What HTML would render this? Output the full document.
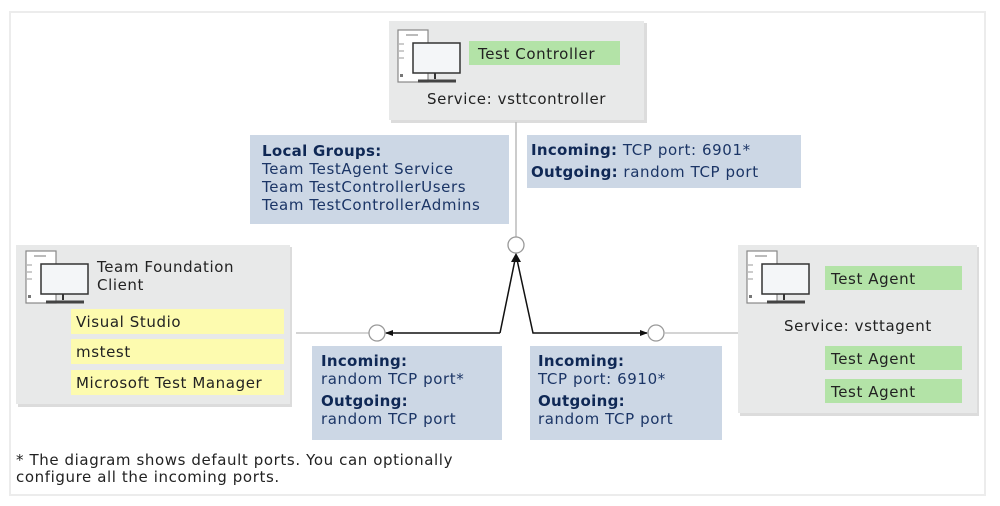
<!DOCTYPE html>
<html><head><meta charset="utf-8"><style>
html,body{margin:0;padding:0;background:#fff;}
svg{display:block;}
text{font-family:"DejaVu Sans","Liberation Sans",sans-serif;font-size:15px;letter-spacing:0.6px;}
.n{fill:#1b3566;}
.b{font-weight:bold;fill:#0f2855;letter-spacing:0.3px;}
.k{fill:#222;}
</style></head><body>
<svg width="1000" height="506" viewBox="0 0 1000 506" xmlns="http://www.w3.org/2000/svg">
<defs>
<g id="pc">
<rect x="0" y="0" width="30" height="52" fill="#fff" stroke="#888" stroke-width="1.2"/>
<line x1="8" y1="5" x2="20" y2="5" stroke="#777"/>
<line x1="1" y1="14" x2="6" y2="14" stroke="#999"/>
<line x1="1" y1="21" x2="6" y2="21" stroke="#999"/>
<line x1="1" y1="28" x2="6" y2="28" stroke="#999"/>
<rect x="2" y="44" width="3" height="3" fill="#777"/>
<rect x="15" y="13" width="47" height="30" fill="#f4f6f8" stroke="#333" stroke-width="1.5"/>
<line x1="37" y1="43" x2="37" y2="49" stroke="#333" stroke-width="2"/>
<line x1="20" y1="51" x2="58" y2="51" stroke="#444" stroke-width="3"/>
</g>
<marker id="ah" markerWidth="8" markerHeight="8" refX="7" refY="4" orient="auto" markerUnits="userSpaceOnUse">
<path d="M0,1 L8,4 L0,7 z" fill="#111"/>
</marker>
</defs>
<rect x="10" y="12" width="975" height="483" fill="#fff" stroke="#ececec" stroke-width="2"/>

<rect x="391" y="23" width="256" height="100" fill="#dcdcdc"/>
<rect x="389" y="21" width="255" height="99" fill="#e8e9e9"/>
<use href="#pc" x="398" y="30"/>
<rect x="469" y="41" width="151" height="24" fill="#b3e3a7"/>
<text x="478" y="59" class="k">Test Controller</text>
<text x="427" y="104" class="k">Service: vsttcontroller</text>

<line x1="516" y1="122" x2="516" y2="237" stroke="#bbb" stroke-width="1.5"/>
<circle cx="516" cy="245" r="8" fill="#fff" stroke="#999" stroke-width="1.3"/>

<rect x="250" y="135" width="259" height="89" fill="#ccd7e5"/>
<text x="262" y="156" class="b">Local Groups:</text>
<text x="262" y="174" class="n">Team TestAgent Service</text>
<text x="262" y="192" class="n">Team TestControllerUsers</text>
<text x="262" y="210" class="n">Team TestControllerAdmins</text>

<rect x="527" y="135" width="274" height="53" fill="#ccd7e5"/>
<text x="531" y="155" class="b">Incoming: <tspan class="n" font-weight="normal" letter-spacing="0.6">TCP port: 6901*</tspan></text>
<text x="531" y="177" class="b">Outgoing: <tspan class="n" font-weight="normal" letter-spacing="0.6">random TCP port</tspan></text>

<rect x="18" y="247" width="274" height="160" fill="#dcdcdc"/>
<rect x="16" y="245" width="274" height="159" fill="#e8e9e9"/>
<use href="#pc" x="26" y="251"/>
<text x="97" y="272" class="k">Team Foundation</text>
<text x="97" y="290" class="k">Client</text>
<rect x="71" y="309" width="213" height="25" fill="#fdfbaf"/>
<rect x="71" y="339" width="213" height="25" fill="#fdfbaf"/>
<rect x="71" y="370" width="213" height="25" fill="#fdfbaf"/>
<text x="76" y="327" class="k">Visual Studio</text>
<text x="76" y="357" class="k">mstest</text>
<text x="76" y="388" class="k">Microsoft Test Manager</text>

<line x1="296" y1="333" x2="369" y2="333" stroke="#bbb" stroke-width="1.3"/>
<circle cx="377" cy="333" r="8" fill="#fff" stroke="#999" stroke-width="1.3"/>
<polyline points="500,333 516,255 533,333 647,333" fill="none" stroke="#111" stroke-width="1.5" marker-end="url(#ah)"/>
<polyline points="500,333 386,333" fill="none" stroke="#111" stroke-width="1.5" marker-end="url(#ah)"/>
<path d="M511,262 L516,253 L521,262 z" fill="#111"/>
<circle cx="656" cy="333" r="8" fill="#fff" stroke="#999" stroke-width="1.3"/>
<line x1="664" y1="333" x2="738" y2="333" stroke="#bbb" stroke-width="1.3"/>

<rect x="312" y="346" width="190" height="94" fill="#ccd7e5"/>
<text x="321" y="366" class="b">Incoming:</text>
<text x="321" y="384" class="n">random TCP port*</text>
<text x="321" y="406" class="b">Outgoing:</text>
<text x="321" y="424" class="n">random TCP port</text>

<rect x="530" y="346" width="192" height="94" fill="#ccd7e5"/>
<text x="538" y="366" class="b">Incoming:</text>
<text x="538" y="384" class="n">TCP port: 6910*</text>
<text x="538" y="406" class="b">Outgoing:</text>
<text x="538" y="424" class="n">random TCP port</text>

<rect x="740" y="247" width="239" height="169" fill="#dcdcdc"/>
<rect x="738" y="245" width="239" height="168" fill="#e8e9e9"/>
<use href="#pc" x="747" y="251"/>
<rect x="825" y="266" width="137" height="24" fill="#b3e3a7"/>
<rect x="825" y="346" width="137" height="24" fill="#b3e3a7"/>
<rect x="825" y="379" width="137" height="24" fill="#b3e3a7"/>
<text x="831" y="284" class="k">Test Agent</text>
<text x="784" y="331" class="k">Service: vsttagent</text>
<text x="831" y="364" class="k">Test Agent</text>
<text x="831" y="397" class="k">Test Agent</text>

<text x="16" y="465" class="k">* The diagram shows default ports. You can optionally</text>
<text x="16" y="482" class="k">configure all the incoming ports.</text>
</svg>
</body></html>
